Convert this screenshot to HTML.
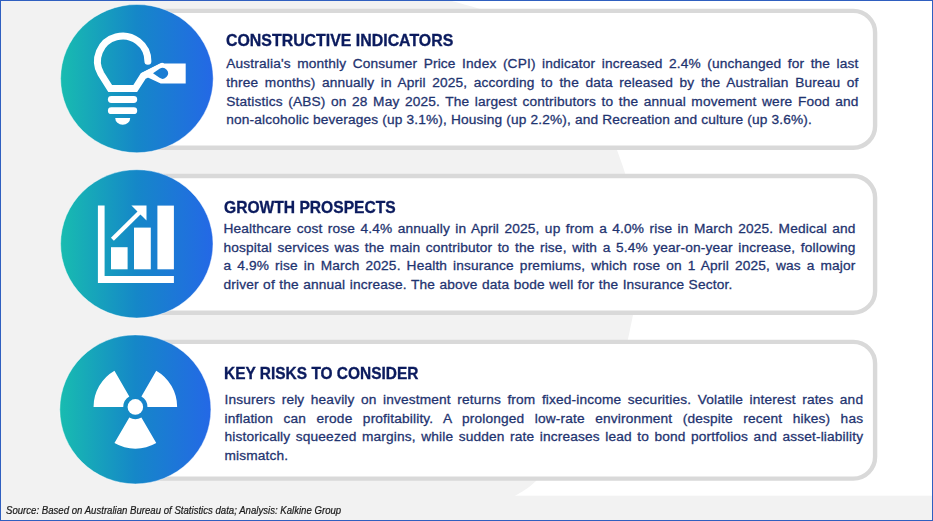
<!DOCTYPE html>
<html><head><meta charset="utf-8"><title>Insurance sector indicators</title>
<style>
html,body{margin:0;padding:0;}
body{width:933px;height:521px;position:relative;overflow:hidden;background:#fff;font-family:"Liberation Sans",sans-serif;}
svg.g{position:absolute;left:0;top:0;}
.hd,.ln,.ft{position:absolute;white-space:nowrap;margin:0;transform-origin:0 0;}
.hd{font-size:17.3px;font-weight:bold;line-height:22px;color:#0b1b5e;-webkit-text-stroke:0.35px #0b1b5e;}
.ln{font-size:13.7px;letter-spacing:0.16px;line-height:18px;color:#1f3470;-webkit-text-stroke:0.3px #1f3470;}
.ft{font-size:10.0px;font-style:italic;line-height:14px;color:#1a1a1a;-webkit-text-stroke:0.2px #1a1a1a;}
.frame{position:absolute;left:0;top:0;width:933px;height:521px;box-sizing:border-box;border:1px solid #2f5fc0;}
</style></head><body>
<svg class="g" width="933" height="521" viewBox="0 0 933 521">
<defs>
<linearGradient id="cg" x1="0" y1="0" x2="1" y2="0">
<stop offset="0" stop-color="#18bcb0"/><stop offset="0.5" stop-color="#1587c8"/><stop offset="1" stop-color="#2468e6"/>
</linearGradient>
</defs>
<rect x="0" y="0" width="933" height="521" fill="#ffffff"/>
<path d="M0,0 L432,-4.5 C435.6,-3.5 446.0,-0.6 453.5,1.5 C461.0,3.6 469.1,5.6 476.8,8.0 C484.6,10.4 489.6,9.0 500.0,16.0 C510.4,23.0 525.5,36.0 539.0,50.0 C552.5,64.0 568.8,85.3 581.0,100.0 C593.2,114.7 606.0,129.7 612.0,138.0 C618.0,146.3 615.5,146.0 617.0,150.0 C618.5,154.0 619.9,158.0 621.3,162.0 C622.7,166.0 624.1,170.0 625.3,174.0 C626.5,178.0 626.5,174.2 628.5,186.0 C630.5,197.8 635.9,225.5 637.0,245.0 C638.1,264.5 635.9,291.3 635.2,303.0 C634.5,314.7 633.8,310.9 633.0,315.0 C632.2,319.1 631.3,323.3 630.4,327.5 C629.5,331.7 628.9,335.9 627.8,340.0 C626.7,344.1 629.0,342.0 624.0,352.0 C619.0,362.0 606.5,385.3 598.0,400.0 C589.5,414.7 583.3,426.5 573.0,440.0 C562.7,453.5 545.5,471.8 536.0,481.0 C526.5,490.2 522.0,491.3 516.0,495.3 C510.0,499.3 502.7,503.4 500.0,505.0 L0,521 Z" fill="#f2f2f2"/>
<rect x="0" y="495.7" width="933" height="26" fill="#f2f2f2"/>
<rect x="122.2" y="10.90" width="752.9" height="136.90" rx="21.8" ry="21.8" fill="#ffffff" stroke="#d9d9d9" stroke-width="4.4"/>
<rect x="122.2" y="176.00" width="752.9" height="136.70" rx="21.8" ry="21.8" fill="#ffffff" stroke="#d9d9d9" stroke-width="4.4"/>
<rect x="122.2" y="341.90" width="752.9" height="136.70" rx="21.8" ry="21.8" fill="#ffffff" stroke="#d9d9d9" stroke-width="4.4"/>
<ellipse cx="136.9" cy="78.6" rx="76.3" ry="74.1" fill="url(#cg)" stroke="#ffffff" stroke-opacity="0.55" stroke-width="0.8"/>
<ellipse cx="136.8" cy="243.85" rx="76.2" ry="74.15" fill="url(#cg)" stroke="#ffffff" stroke-opacity="0.55" stroke-width="0.8"/>
<ellipse cx="135.35" cy="409.4" rx="75.55" ry="74.5" fill="url(#cg)" stroke="#ffffff" stroke-opacity="0.55" stroke-width="0.8"/>
<!-- icon 1: lightbulb with tag -->
<mask id="tagm" maskUnits="userSpaceOnUse" x="80" y="20" width="120" height="120"><rect x="80" y="20" width="120" height="120" fill="#fff"/><path d="M153,73.3 L159.56,68.83 A5.4,5.4 0 1 1 159.56,77.77 Z" fill="#000"/></mask>
<g fill="#ffffff">
<g mask="url(#tagm)">
<path d="M160.2,63.4 L185.7,63.4 L185.7,83.4 L160.7,83.4 L146.8,76.9 L141.5,73 Z"/>
<path d="M147.9,61.2 A25.2,25.2 0 1 0 100.88,73.80 L110.2,88.55 L135.2,88.55 L143.2,76.05 L161.8,66.5" fill="none" stroke="#ffffff" stroke-width="7" stroke-linecap="round" stroke-linejoin="miter"/>
</g>
<rect x="107.9" y="96.1" width="29.3" height="6.9" rx="3.45"/>
<rect x="107.9" y="107.3" width="29.3" height="6.8" rx="3.4"/>
<path d="M115.2,118 H130.2 A7.5,6.8 0 0 1 115.2,118 Z"/>
</g>
<!-- icon 2: bar chart -->
<g fill="#ffffff">
<path d="M97.9,205.6 H104.6 V276 H173.9 V282.9 H97.9 Z"/>
<rect x="111" y="247.2" width="16.6" height="22.1"/>
<rect x="134" y="227.6" width="16.8" height="41.7"/>
<rect x="157.4" y="205.6" width="16.5" height="63.7"/>
<path d="M131.4,205.6 H146.5 V220.6 Z"/>
<line x1="112.4" y1="239.2" x2="139.5" y2="212.5" stroke="#ffffff" stroke-width="4.2"/>
</g>
<!-- icon 3: radiation -->
<g fill="#ffffff">
<circle cx="135.35" cy="406.9" r="7.8"/>
<path d="M141.40,396.42 L156.25,370.70 A41.8,41.8 0 0 1 177.15,406.90 L147.45,406.90 A12.1,12.1 0 0 0 141.40,396.42 Z M123.25,406.90 L93.55,406.90 A41.8,41.8 0 0 1 114.45,370.70 L129.30,396.42 A12.1,12.1 0 0 0 123.25,406.90 Z M141.40,417.38 L156.25,443.10 A41.8,41.8 0 0 1 114.45,443.10 L129.30,417.38 A12.1,12.1 0 0 0 141.40,417.38 Z"/>
</g>
</svg>
<div class="hd" style="left:226.3px;top:29.01px;transform:scaleX(0.9200)">CONSTRUCTIVE INDICATORS</div>
<div class="ln" style="left:226.3px;top:55.00px;word-spacing:2.514px">Australia's monthly Consumer Price Index (CPI) indicator increased 2.4% (unchanged for the last</div>
<div class="ln" style="left:226.3px;top:74.00px;word-spacing:2.574px">three months) annually in April 2025, according to the data released by the Australian Bureau of</div>
<div class="ln" style="left:226.3px;top:93.00px;word-spacing:1.551px">Statistics (ABS) on 28 May 2025. The largest contributors to the annual movement were Food and</div>
<div class="ln" style="left:226.3px;top:111.00px;word-spacing:-0.017px">non-alcoholic beverages (up 3.1%), Housing (up 2.2%), and Recreation and culture (up 3.6%).</div>
<div class="hd" style="left:223.5px;top:195.71px;transform:scaleX(0.9032)">GROWTH PROSPECTS</div>
<div class="ln" style="left:223.5px;top:220.00px;word-spacing:1.413px">Healthcare cost rose 4.4% annually in April 2025, up from a 4.0% rise in March 2025. Medical and</div>
<div class="ln" style="left:223.5px;top:239.00px;word-spacing:1.563px">hospital services was the main contributor to the rise, with a 5.4% year-on-year increase, following</div>
<div class="ln" style="left:223.5px;top:257.00px;word-spacing:2.025px">a 4.9% rise in March 2025. Health insurance premiums, which rose on 1 April 2025, was a major</div>
<div class="ln" style="left:223.5px;top:276.00px;word-spacing:0.471px">driver of the annual increase. The above data bode well for the Insurance Sector.</div>
<div class="hd" style="left:223.6px;top:361.71px;transform:scaleX(0.8949)">KEY RISKS TO CONSIDER</div>
<div class="ln" style="left:224.5px;top:391.00px;word-spacing:2.490px">Insurers rely heavily on investment returns from fixed-income securities. Volatile interest rates and</div>
<div class="ln" style="left:224.5px;top:410.00px;word-spacing:6.500px">inflation can erode profitability. A prolonged low-rate environment (despite recent hikes) has</div>
<div class="ln" style="left:224.5px;top:428.00px;word-spacing:1.520px">historically squeezed margins, while sudden rate increases lead to bond portfolios and asset-liability</div>
<div class="ln" style="left:224.5px;top:447.00px;word-spacing:0.000px">mismatch.</div>
<div class="ft" style="left:6.2px;top:504.24px;transform:scaleX(0.9607)">Source: Based on Australian Bureau of Statistics data; Analysis: Kalkine Group</div>
<div class="frame"></div>
</body></html>
